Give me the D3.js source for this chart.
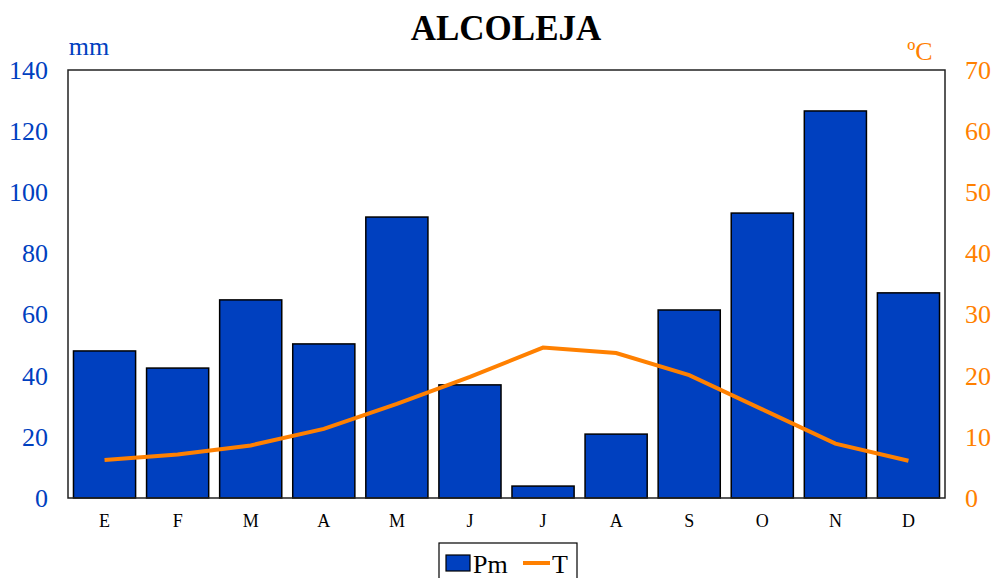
<!DOCTYPE html>
<html><head><meta charset="utf-8">
<script src="https://cdn.jsdelivr.net/npm/d3@7"></script>
<style>body{margin:0;background:#fff}svg{display:block;font-family:"Liberation Serif","Times New Roman",serif}</style>
</head><body>
<svg id="c" width="991" height="578"></svg>
<script>
const months = ["E","F","M","A","M","J","J","A","S","O","N","D"];
const precip = [48.1, 42.5, 64.8, 50.4, 91.9, 37.0, 3.9, 20.9, 61.5, 93.2, 126.6, 67.1];
const temp = [6.2, 7.1, 8.6, 11.3, 15.4, 19.8, 24.6, 23.7, 20.1, 14.5, 8.9, 6.1];
const leftTicks = [0,20,40,60,80,100,120,140];
const rightTicks = [0,10,20,30,40,50,60,70];

const svg = d3.select("#c");
const L = 68, R = 945, T = 70, B = 498;
const blue = "#0040BF", orange = "#FF8000";

const x = d3.scaleBand().domain(d3.range(12)).range([L, R]).paddingInner(0.15).paddingOuter(0.075);
const yL = d3.scaleLinear().domain([0,140]).range([B, T]);
const yR = d3.scaleLinear().domain([0,70]).range([B, T]);

svg.append("text").attr("x", 506).attr("y", 40).attr("text-anchor","middle")
  .attr("font-size", 35).attr("font-weight","bold").text("ALCOLEJA");

svg.append("g").selectAll("rect").data(precip).join("rect")
  .attr("x", (d,i)=>x(i)).attr("width", x.bandwidth())
  .attr("y", d=>yL(d)).attr("height", d=>B-yL(d))
  .attr("fill", blue).attr("stroke","#000").attr("stroke-width",1.5);

svg.append("rect").attr("x",L).attr("y",T).attr("width",R-L).attr("height",B-T)
  .attr("fill","none").attr("stroke","#222").attr("stroke-width",1.5);

const line = d3.line().x((d,i)=>x(i)+x.bandwidth()/2).y(d=>yR(d));
svg.append("path").datum(temp).attr("d", line).attr("fill","none")
  .attr("stroke", orange).attr("stroke-width",4);

const ax = d3.axisBottom(x).tickSize(0).tickFormat(i=>months[i]);
const gx = svg.append("g").attr("transform",`translate(0,${B})`).call(ax);
gx.select(".domain").remove();
gx.selectAll("text").attr("font-family","Liberation Serif").attr("font-size",18).attr("fill","#000").attr("dy","1.45em");

const al = d3.axisLeft(yL).tickValues(leftTicks).tickSize(0).tickPadding(20);
const gl = svg.append("g").attr("transform",`translate(${L},0)`).call(al);
gl.select(".domain").remove();
gl.selectAll("text").attr("font-family","Liberation Serif").attr("font-size",26).attr("fill",blue);

const ar = d3.axisRight(yR).tickValues(rightTicks).tickSize(0).tickPadding(20);
const gr = svg.append("g").attr("transform",`translate(${R},0)`).call(ar);
gr.select(".domain").remove();
gr.selectAll("text").attr("font-family","Liberation Serif").attr("font-size",26).attr("fill",orange);

svg.append("text").attr("x",89).attr("y",55).attr("text-anchor","middle").attr("font-size",26).attr("fill",blue).text("mm");
svg.append("text").attr("x",920).attr("y",60).attr("text-anchor","middle").attr("font-size",26).attr("fill",orange).text("ºC");

const lg = svg.append("g");
lg.append("rect").attr("x",439).attr("y",543).attr("width",138).attr("height",40).attr("fill","#fff").attr("stroke","#000").attr("stroke-width",1.2);
lg.append("rect").attr("x",446).attr("y",555).attr("width",24).attr("height",16).attr("fill",blue).attr("stroke","#000").attr("stroke-width",1.2);
lg.append("text").attr("x",473).attr("y",573).attr("font-size",26).text("Pm");
lg.append("line").attr("x1",523).attr("x2",550).attr("y1",563).attr("y2",563).attr("stroke",orange).attr("stroke-width",4);
lg.append("text").attr("x",552).attr("y",573).attr("font-size",26).text("T");
</script>
</body></html>
